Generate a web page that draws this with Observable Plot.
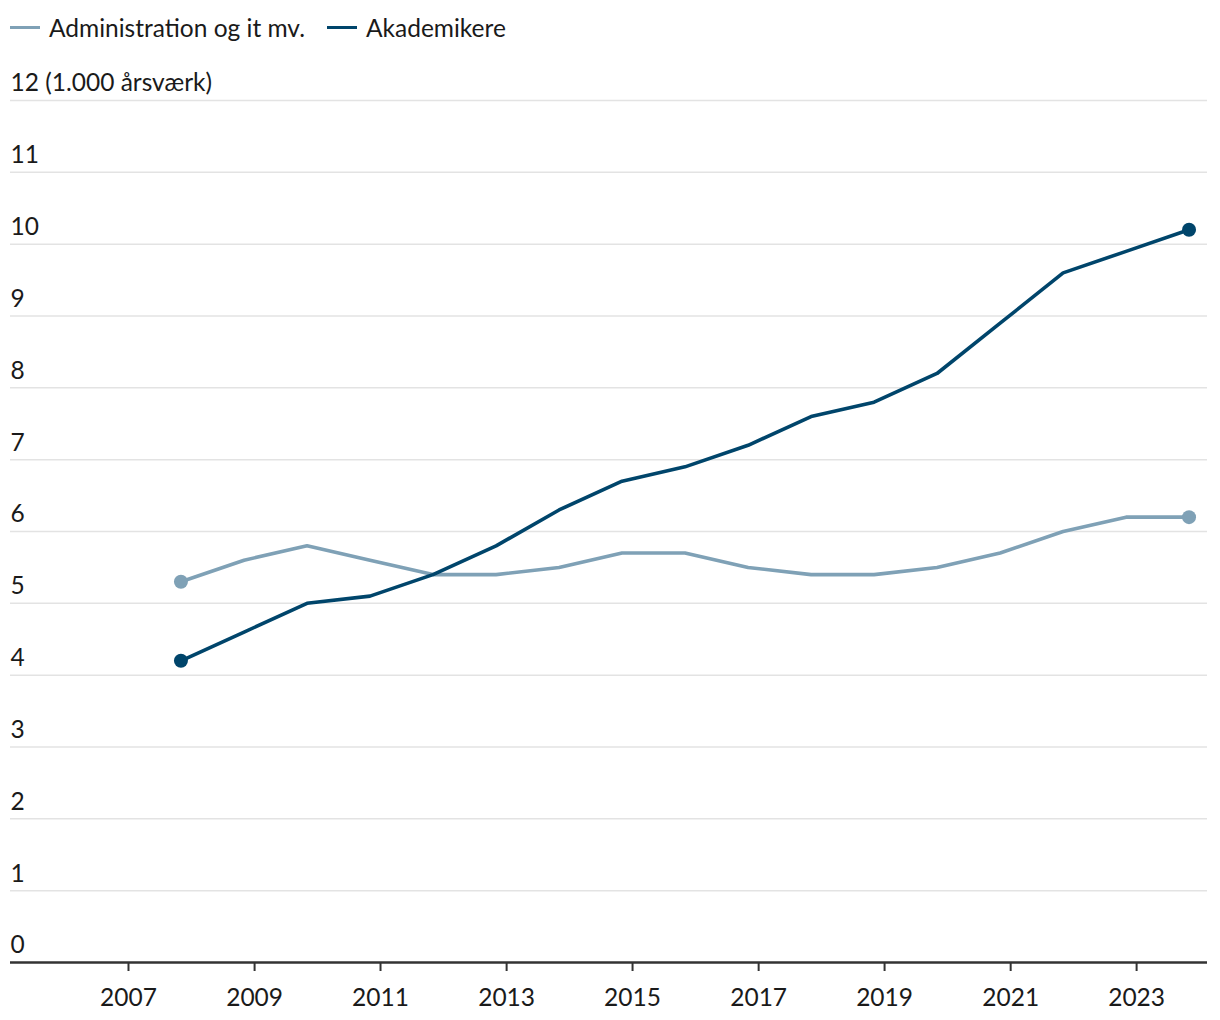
<!DOCTYPE html>
<html>
<head>
<meta charset="utf-8">
<script src="https://cdn.jsdelivr.net/npm/d3@7"></script>
<script src="https://cdn.jsdelivr.net/npm/@observablehq/plot@0.6"></script>
<style>
  html, body { margin: 0; padding: 0; background: #fff; }
  body { width: 1220px; height: 1020px; overflow: hidden; font-family: Lato, "Open Sans", sans-serif; color: #1a1a1a; }
  #legend { height: 56px; position: relative; font-size: 24.5px; }
  .item { position: absolute; top: 13px; display: flex; align-items: center; white-space: nowrap; }
  .sw { width: 30px; height: 3.5px; margin-right: 9px; display: inline-block; }
</style>
</head>
<body>
<div id="legend"></div>
<div id="chart"></div>
<script>
const years = [2007,2008,2009,2010,2011,2012,2013,2014,2015,2016,2017,2018,2019,2020,2021,2022,2023];
const administration = [5.3,5.6,5.8,5.6,5.4,5.4,5.5,5.7,5.7,5.5,5.4,5.4,5.5,5.7,6.0,6.2,6.2];
const akademikere = [4.2,4.6,5.0,5.1,5.4,5.8,6.3,6.7,6.9,7.2,7.6,7.8,8.2,8.9,9.6,9.9,10.2];
const seriesNames = ["Administration og it mv.", "Akademikere"];
const seriesColors = ["#7fa1b6", "#00456b"];
const tickYears = [2007,2009,2011,2013,2015,2017,2019,2021,2023];
const yTicks = [0,1,2,3,4,5,6,7,8,9,10,11,12];

// data points sit late in each year (November)
const toDate = y => new Date(Date.UTC(y, 10, 1));
const rows = [];
years.forEach((y, i) => {
  rows.push({date: toDate(y), value: administration[i], series: seriesNames[0]});
  rows.push({date: toDate(y), value: akademikere[i], series: seriesNames[1]});
});
const ends = rows.filter(d => d.date.getUTCFullYear() === years[0] || d.date.getUTCFullYear() === years[years.length - 1]);

// legend
const legend = document.getElementById("legend");
const lefts = [10, 327];
seriesNames.forEach((n, i) => {
  const it = document.createElement("div");
  it.className = "item";
  it.style.left = lefts[i] + "px";
  it.innerHTML = `<span class="sw" style="background:${seriesColors[i]}"></span><span>${n}</span>`;
  legend.appendChild(it);
});

const chart = Plot.plot({
  width: 1220,
  height: 964,
  marginLeft: 10,
  marginRight: 13,
  marginTop: 44,
  marginBottom: 58,
  style: {fontFamily: "Lato, 'Open Sans', sans-serif", fontSize: "24.5px", color: "#1a1a1a", background: "#fff"},
  x: {type: "utc", domain: [new Date(Date.UTC(2005, 1, 16)), new Date(Date.UTC(2024, 1, 16))]},
  y: {domain: [0, 12]},
  color: {domain: seriesNames, range: seriesColors},
  marks: [
    Plot.gridY(yTicks.filter(d => d > 0), {stroke: "#e3e3e3", strokeOpacity: 1, strokeWidth: 1.5}),
    Plot.axisY(yTicks, {
      tickSize: 0, tickPadding: 0, textAnchor: "start", dy: -17, label: null,
      tickFormat: d => d === 12 ? "12 (1.000 årsværk)" : String(d), fill: "#1a1a1a"
    }),
    Plot.axisX(tickYears.map(y => new Date(Date.UTC(y, 0, 1))), {
      tickSize: 9, tickPadding: 17, tickFormat: d3.utcFormat("%Y"), label: null,
      stroke: "#333", strokeWidth: 2, fill: "#1a1a1a"
    }),
    Plot.ruleY([0], {stroke: "#333", strokeWidth: 2.5}),
    Plot.line(rows, {x: "date", y: "value", z: "series", stroke: "series", strokeWidth: 3.6, strokeLinejoin: "round"}),
    Plot.dot(ends, {x: "date", y: "value", fill: "series", r: 7})
  ]
});
document.getElementById("chart").appendChild(chart);
</script>
</body>
</html>
